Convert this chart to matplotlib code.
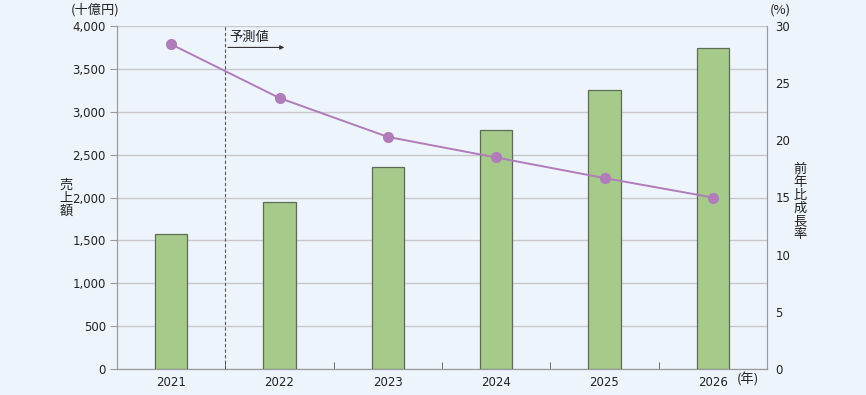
import matplotlib
matplotlib.use('Agg')
import matplotlib.pyplot as plt
import numpy as np

plt.rcParams['font.family'] = ['DejaVu Sans', 'Noto Sans CJK JP']

years = ['2021', '2022', '2023', '2024', '2025', '2026']
sales = [1580, 1950, 2355, 2785, 3255, 3745]          # 十億円
growth = [28.4, 23.7, 20.3, 18.5, 16.7, 15.0]         # %
left_ticks = [0, 500, 1000, 1500, 2000, 2500, 3000, 3500, 4000]
right_ticks = [0, 5, 10, 15, 20, 25, 30]

bg = '#EEF4FC'
grid_c = '#C8C8CC'
spine_c = '#9A9A9A'
txt = '#222222'
fs = 8.5
jp = ['Noto Sans CJK JP', 'DejaVu Sans']

fig = plt.figure(figsize=(8.66, 3.95), dpi=100)
fig.patch.set_facecolor(bg)
ax = fig.add_axes([117 / 866, 1 - 369 / 395, 650 / 866, 343 / 395])
ax.set_facecolor(bg)

x = np.arange(len(years))
ax.bar(x, sales, width=0.3, color='#A6CA8A', edgecolor='#5E6B55', linewidth=0.9, zorder=3)
ax.set_xlim(-0.5, len(years) - 0.5)
ax.set_ylim(0, 4000)
ax.set_yticks(left_ticks)
ax.set_yticklabels([f'{v:,}' for v in left_ticks])
ax.yaxis.grid(True, color=grid_c, linewidth=1.0, zorder=0)
ax.set_xticks(x)
ax.set_xticklabels(years)
ax.set_xticks(np.arange(len(years) - 1) + 0.5, minor=True)
ax.tick_params(axis='x', which='major', length=0, pad=5, labelsize=fs, colors=txt)
ax.tick_params(axis='x', which='minor', length=5, direction='in', color='#555555')
ax.tick_params(axis='y', length=5, color=spine_c, labelsize=fs, labelcolor=txt, pad=3)
for s in ['left', 'right', 'bottom']:
    ax.spines[s].set_color(spine_c)
ax.spines['top'].set_visible(False)

# forecast divider
ax.axvline(0.5, color='#555555', linestyle=(0, (3, 2)), linewidth=0.8, zorder=4)
ax.annotate('', xy=(1.07, 3750), xytext=(0.5, 3750),
            arrowprops=dict(arrowstyle='-|>', color='#333333', lw=0.8, mutation_scale=6))
ax.text(0.54, 3790, '予測値', fontsize=9.5, family=jp, color=txt, va='bottom', ha='left')

ax2 = ax.twinx()
ax2.plot(x, growth, color='#B07CBA', linewidth=1.4, marker='o', markersize=7, zorder=5)
ax2.set_ylim(0, 30)
ax2.set_yticks(right_ticks)
ax2.tick_params(axis='y', length=0, labelsize=fs, labelcolor=txt, pad=6)
for s in ['left', 'right', 'bottom']:
    ax2.spines[s].set_color(spine_c)
ax2.spines['top'].set_visible(False)

fig.text(95 / 866, 1 - 10 / 395, '(十億円)', fontsize=9.5, family=jp, ha='center', va='center', color=txt)
fig.text(780 / 866, 1 - 10 / 395, '(%)', fontsize=9.5, family=jp, ha='center', va='center', color=txt)
fig.text(748 / 866, 1 - 380 / 395, '(年)', fontsize=9.5, family=jp, ha='center', va='center', color=txt)
fig.text(66 / 866, 1 - 198 / 395, '\n'.join('売上額'), fontsize=9.5, family=jp, ha='center',
         va='center', linespacing=1.0, color=txt)
fig.text(800 / 866, 1 - 202 / 395, '\n'.join('前年比成長率'), fontsize=9.5, family=jp, ha='center',
         va='center', linespacing=1.0, color=txt)

fig.savefig('out.png', dpi=100, facecolor=fig.get_facecolor())
